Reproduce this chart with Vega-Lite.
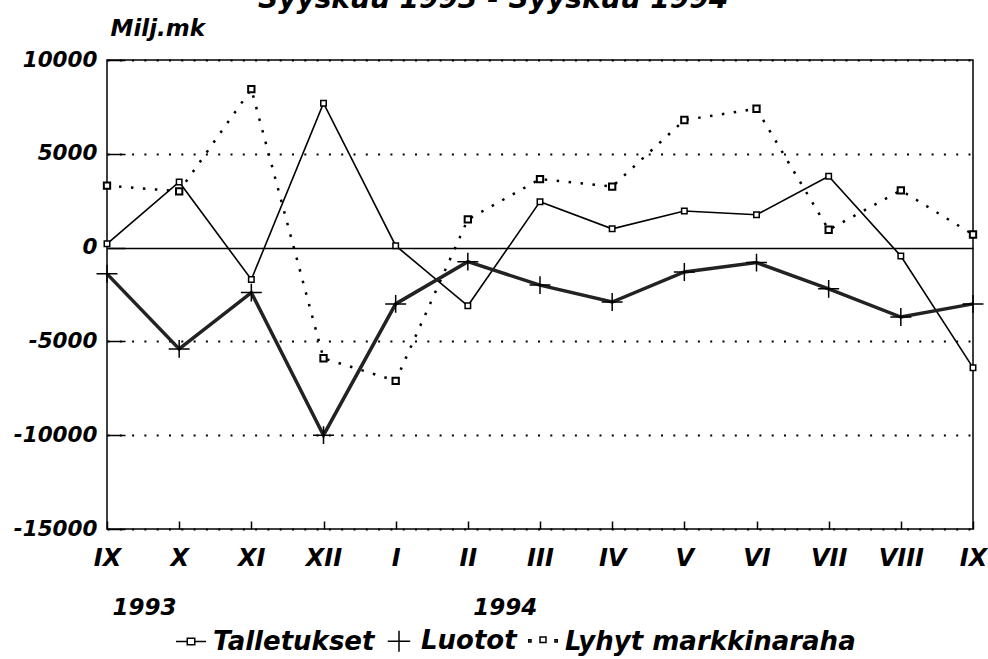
{
  "$schema": "https://vega.github.io/schema/vega-lite/v6.json",
  "width": 866,
  "height": 469,
  "autosize": {"type": "none"},
  "padding": {"left": 107, "top": 60, "right": 15, "bottom": 130},
  "background": "white",
  "title": {"text": "Syyskuu 1993 - Syyskuu 1994", "anchor": "start", "frame": "group", "dx": 151, "offset": -19, "baseline": "alphabetic", "fontSize": 28, "font": "DejaVu Sans", "fontStyle": "italic", "fontWeight": "bold", "color": "black"},
  "data": {"values": [
    {"kuukausi": "1993-IX", "sarja": "Talletukset", "arvo": 200},
    {"kuukausi": "1993-X", "sarja": "Talletukset", "arvo": 3500},
    {"kuukausi": "1993-XI", "sarja": "Talletukset", "arvo": -1700},
    {"kuukausi": "1993-XII", "sarja": "Talletukset", "arvo": 7700},
    {"kuukausi": "1994-I", "sarja": "Talletukset", "arvo": 100},
    {"kuukausi": "1994-II", "sarja": "Talletukset", "arvo": -3100},
    {"kuukausi": "1994-III", "sarja": "Talletukset", "arvo": 2450},
    {"kuukausi": "1994-IV", "sarja": "Talletukset", "arvo": 1000},
    {"kuukausi": "1994-V", "sarja": "Talletukset", "arvo": 1950},
    {"kuukausi": "1994-VI", "sarja": "Talletukset", "arvo": 1750},
    {"kuukausi": "1994-VII", "sarja": "Talletukset", "arvo": 3800},
    {"kuukausi": "1994-VIII", "sarja": "Talletukset", "arvo": -450},
    {"kuukausi": "1994-IX", "sarja": "Talletukset", "arvo": -6400},
    {"kuukausi": "1993-IX", "sarja": "Luotot", "arvo": -1400},
    {"kuukausi": "1993-X", "sarja": "Luotot", "arvo": -5400},
    {"kuukausi": "1993-XI", "sarja": "Luotot", "arvo": -2400},
    {"kuukausi": "1993-XII", "sarja": "Luotot", "arvo": -10000},
    {"kuukausi": "1994-I", "sarja": "Luotot", "arvo": -3000},
    {"kuukausi": "1994-II", "sarja": "Luotot", "arvo": -750},
    {"kuukausi": "1994-III", "sarja": "Luotot", "arvo": -2000},
    {"kuukausi": "1994-IV", "sarja": "Luotot", "arvo": -2900},
    {"kuukausi": "1994-V", "sarja": "Luotot", "arvo": -1300},
    {"kuukausi": "1994-VI", "sarja": "Luotot", "arvo": -800},
    {"kuukausi": "1994-VII", "sarja": "Luotot", "arvo": -2200},
    {"kuukausi": "1994-VIII", "sarja": "Luotot", "arvo": -3700},
    {"kuukausi": "1994-IX", "sarja": "Luotot", "arvo": -3000},
    {"kuukausi": "1993-IX", "sarja": "Lyhyt markkinaraha", "arvo": 3300},
    {"kuukausi": "1993-X", "sarja": "Lyhyt markkinaraha", "arvo": 3000},
    {"kuukausi": "1993-XI", "sarja": "Lyhyt markkinaraha", "arvo": 8450},
    {"kuukausi": "1993-XII", "sarja": "Lyhyt markkinaraha", "arvo": -5900},
    {"kuukausi": "1994-I", "sarja": "Lyhyt markkinaraha", "arvo": -7100},
    {"kuukausi": "1994-II", "sarja": "Lyhyt markkinaraha", "arvo": 1500},
    {"kuukausi": "1994-III", "sarja": "Lyhyt markkinaraha", "arvo": 3650},
    {"kuukausi": "1994-IV", "sarja": "Lyhyt markkinaraha", "arvo": 3250},
    {"kuukausi": "1994-V", "sarja": "Lyhyt markkinaraha", "arvo": 6800},
    {"kuukausi": "1994-VI", "sarja": "Lyhyt markkinaraha", "arvo": 7400},
    {"kuukausi": "1994-VII", "sarja": "Lyhyt markkinaraha", "arvo": 950},
    {"kuukausi": "1994-VIII", "sarja": "Lyhyt markkinaraha", "arvo": 3050},
    {"kuukausi": "1994-IX", "sarja": "Lyhyt markkinaraha", "arvo": 700}
  ]},
  "layer": [
    {
      "encoding": {
        "x": {"field": "kuukausi", "type": "ordinal",
          "scale": {"domain": ["1993-IX","1993-X","1993-XI","1993-XII","1994-I","1994-II","1994-III","1994-IV","1994-V","1994-VI","1994-VII","1994-VIII","1994-IX"], "padding": 0},
          "axis": {"labelExpr": "split(datum.value, '-')[1]", "labelAngle": 0, "labelFontSize": 24, "labelPadding": 25, "tickSize": -8, "tickWidth": 1.5, "tickColor": "black", "title": null, "grid": false, "labelOverlap": false, "labelFlush": false, "domain": false, "orient": "bottom"}},
        "y": {"field": "arvo", "type": "quantitative",
          "scale": {"domain": [-15000, 10000], "nice": false, "zero": false},
          "axis": {"values": [-15000, -10000, -5000, 0, 5000, 10000], "labelExpr": "'' + datum.value", "labelFontSize": 21.5, "labelPadding": 28, "tickSize": -18, "tickWidth": 1.5, "tickColor": "black", "grid": true, "gridColor": "black",
            "gridDash": {"condition": {"test": "datum.value === 0", "value": []}, "value": [2, 10.3]},
            "gridWidth": {"condition": {"test": "datum.value === 0", "value": 1.5}, "value": 2},
            "domain": false, "labelFlush": false, "labelOverlap": false,
            "title": "Milj.mk", "titleAngle": 0, "titleAlign": "left", "titleBaseline": "alphabetic", "titleX": 3, "titleY": -25, "titleFontSize": 23}}
      },
      "layer": [
        {"mark": {"type": "point", "opacity": 0},
         "encoding": {"shape": {"field": "sarja", "type": "nominal",
           "scale": {"domain": ["Talletukset", "Luotot", "Lyhyt markkinaraha"],
             "range": ["M-1,0L-0.25,0M0.25,0L1,0M-0.25,-0.22L0.25,-0.22L0.25,0.22L-0.25,0.22Z", "M-0.75,0L0.75,0M0,-0.7L0,0.7", "M-0.95,-0.12L-0.8,-0.12L-0.8,0.03L-0.95,0.03ZM-0.2,-0.3L0.2,-0.3L0.2,0.06L-0.2,0.06ZM0.8,-0.12L0.95,-0.12L0.95,0.03L0.8,0.03Z"]},
           "legend": {"orient": "none", "legendX": 68, "legendY": 565, "direction": "horizontal", "title": null, "labelFontSize": 26, "labelLimit": 500, "symbolSize": 900, "symbolStrokeWidth": 1.5, "symbolStrokeColor": "black", "symbolFillColor": "white", "symbolOpacity": 1, "labelOffset": 6, "columnPadding": 8, "symbolOffset": 0, "labelColor": "black", "labelFont": "DejaVu Sans", "labelFontStyle": "italic", "labelFontWeight": "bold"}}}},
        {"transform": [{"filter": "datum.sarja === 'Lyhyt markkinaraha'"}],
         "mark": {"type": "line", "color": "black", "strokeWidth": 2.5, "strokeDash": [2.5, 9.5]}},
        {"transform": [{"filter": "datum.sarja === 'Talletukset'"}],
         "mark": {"type": "line", "color": "black", "strokeWidth": 1.6}},
        {"transform": [{"filter": "datum.sarja === 'Luotot'"}],
         "mark": {"type": "line", "color": "#222222", "strokeWidth": 3.5}},
        {"transform": [{"filter": "datum.sarja === 'Lyhyt markkinaraha'"}],
         "mark": {"type": "point", "shape": "square", "size": 40, "filled": true, "fill": "white", "stroke": "black", "strokeWidth": 2, "opacity": 1}},
        {"transform": [{"filter": "datum.sarja === 'Talletukset'"}],
         "mark": {"type": "point", "shape": "square", "size": 30, "filled": true, "fill": "white", "stroke": "black", "strokeWidth": 1.5, "opacity": 1}},
        {"transform": [{"filter": "datum.sarja === 'Luotot'"}],
         "mark": {"type": "point", "shape": "M-1,0L1,0M0,-0.85L0,0.85", "size": 440, "filled": false, "stroke": "black", "strokeWidth": 1.5, "opacity": 1}}
      ]
    },
    {
      "transform": [{"filter": "datum.sarja === 'Talletukset'"}],
      "mark": {"type": "point", "opacity": 0},
      "encoding": {
        "x": {"field": "kuukausi", "type": "ordinal",
          "scale": {"domain": ["1993-IX","1993-X","1993-XI","1993-XII","1994-I","1994-II","1994-III","1994-IV","1994-V","1994-VI","1994-VII","1994-VIII","1994-IX"], "padding": 0},
          "axis": {"orient": "bottom", "values": ["1993-IX", "1994-II"], "labelExpr": "split(datum.value, '-')[0]", "labelAngle": 0, "labelAlign": "left", "labelOffset": 5, "labelFontSize": 23, "labelPadding": 67, "ticks": false, "domain": false, "grid": false, "title": null, "labelOverlap": false, "labelFlush": false}}
      }
    }
  ],
  "resolve": {"axis": {"x": "independent"}},
  "config": {
    "font": "DejaVu Sans",
    "view": {"stroke": "black", "strokeWidth": 1.5},
    "axis": {"labelFont": "DejaVu Sans", "labelFontStyle": "italic", "labelFontWeight": "bold", "labelColor": "black", "titleFont": "DejaVu Sans", "titleFontStyle": "italic", "titleFontWeight": "bold", "titleColor": "black"}
  }
}
